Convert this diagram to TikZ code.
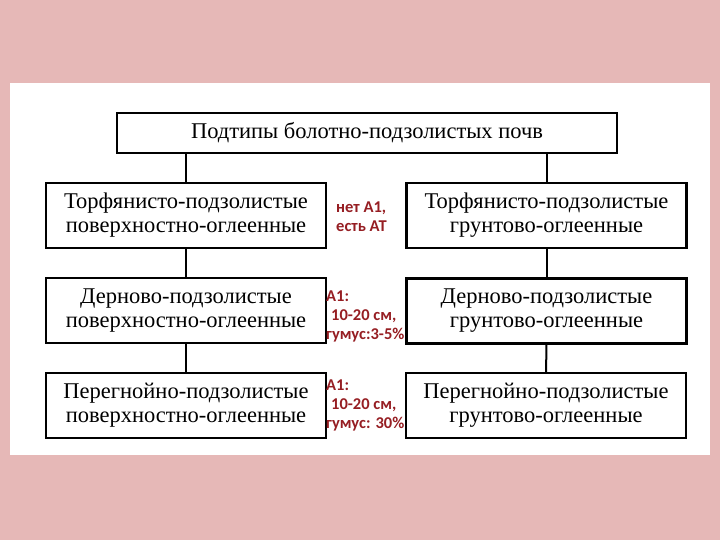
\documentclass[tikz,border=0pt]{standalone}
\usepackage{fontspec}
\setmainfont{Liberation Serif}
\newfontfamily\redfont{Carlito}
\definecolor{bgpink}{RGB}{230,184,183}
\definecolor{notered}{RGB}{150,30,35}
\begin{document}
\begin{tikzpicture}[x=1pt,y=-1pt,
  box/.style={draw=black,line width=2.4pt,fill=white,minimum width=280pt,minimum height=65pt,align=center,inner sep=0pt,
    font=\fontsize{22.5}{24}\selectfont},
  link/.style={line width=2pt},
  note/.style={anchor=west,align=left,text=notered,inner sep=0pt,font=\redfont\bfseries\fontsize{16.5}{19}\selectfont}]
\fill[bgpink] (0,0) rectangle (720,540);
\fill[white] (10,83) rectangle (710,455);
\useasboundingbox (0,0) rectangle (720,540);
\node[box,minimum width=500pt,minimum height=40pt] (top) at (367,133) {Подтипы болотно-подзолистых почв};
\node[box] (L1) at (186,215.5) {Торфянисто-подзолистые\\поверхностно-оглеенные};
\node[box] (R1) at (546.5,215.5) {Торфянисто-подзолистые\\грунтово-оглеенные};
\node[box] (L2) at (186,310.5) {Дерново-подзолистые\\поверхностно-оглеенные};
\node[box] (R2) at (546.5,311) {Дерново-подзолистые\\грунтово-оглеенные};
\node[box] (L3) at (186,405.5) {Перегнойно-подзолистые\\поверхностно-оглеенные};
\node[box] (R3) at (546,405.5) {Перегнойно-подзолистые\\грунтово-оглеенные};
\draw[link] (top.south -| L1.north) -- (L1.north);
\draw[link] (top.south -| R1.north) -- (R1.north);
\draw[link] (L1) -- (L2);
\draw[link] (L2) -- (L3);
\draw[link] (R1) -- (R2);
\draw[link] (R2) -- (R3);
\node[note] (n1) at (336,217) {нет А1,\\есть АТ};
\node[note] (n2) at (326,316) {А1:\\\hspace{5pt}10-20 см,\\гумус:3-5\%};
\node[note] (n3) at (326,405) {А1:\\\hspace{5pt}10-20 см,\\гумус: 30\%};
\end{tikzpicture}
\end{document}
